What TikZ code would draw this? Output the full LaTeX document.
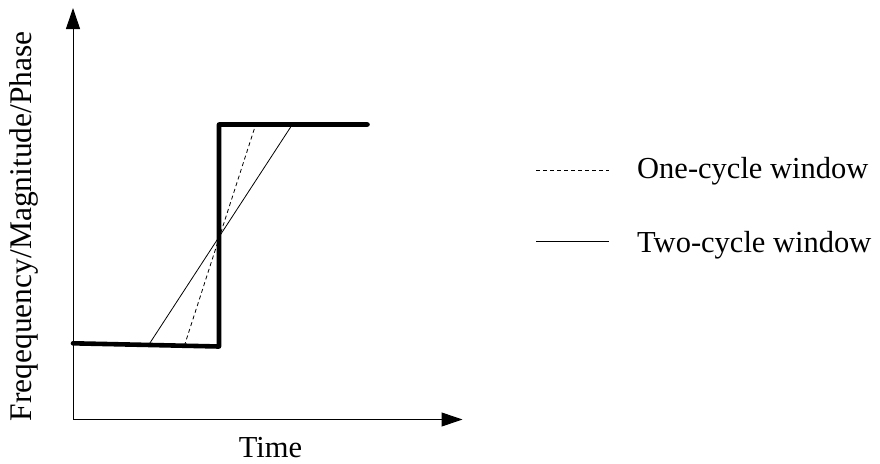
\documentclass[tikz,border=0pt]{standalone}
\usepackage{fontspec}
\setmainfont{Liberation Serif}
\usetikzlibrary{arrows.meta}
\begin{document}
\begin{tikzpicture}[x=1pt,y=-1pt,
  lbl/.style={font=\fontsize{30.5}{36}\selectfont, inner sep=0pt},
  axis/.style={line width=1pt, -{Triangle[length=21pt,width=14pt]}},
  stepline/.style={line width=4.6pt, line join=round, line cap=round},
  onecyc/.style={line width=0.8pt, dash pattern=on 4pt off 3pt},
  twocyc/.style={line width=0.8pt}]
\useasboundingbox (0,0) rectangle (880,463);
% axes
\coordinate (O) at (73,419.5);
\coordinate (ytip) at (73,8);
\coordinate (xtip) at (462.5,419.5);
\draw[axis] (O) -- (ytip);
\draw[axis] (O) -- (xtip);
% step signal
\coordinate (s0) at (73,343.3);
\coordinate (s1) at (219,346.5);
\coordinate (s2) at (219,124.5);
\coordinate (s3) at (367.5,124.5);
\draw[stepline] (s0) -- (s1) -- (s2) -- (s3);
% windows
\coordinate (d0) at (184.3,346);
\coordinate (d1) at (255.7,124.5);
\coordinate (t0) at (148.3,345.5);
\coordinate (t1) at (292.3,124.5);
\draw[onecyc] (d0) -- (d1);
\draw[twocyc] (t0) -- (t1);
% labels
\node[lbl, font=\fontsize{31.5}{36}\selectfont, rotate=90, anchor=base west] (ylab) at (31.5,421.5) {Freqequency/Magnitude/Phase};
\node[lbl, anchor=base] (xlab) at (270.5,457) {Time};
% legend
\coordinate (l1a) at (536,170.7);
\coordinate (l1b) at (609,170.7);
\coordinate (l2a) at (536,241.7);
\coordinate (l2b) at (609,241.7);
\draw[onecyc] (l1a) -- (l1b);
\draw[twocyc] (l2a) -- (l2b);
\node[lbl, anchor=base west] (leg1) at (637,178.5) {One-cycle window};
\node[lbl, anchor=base west] (leg2) at (637,252) {Two-cycle window};
\end{tikzpicture}
\end{document}
